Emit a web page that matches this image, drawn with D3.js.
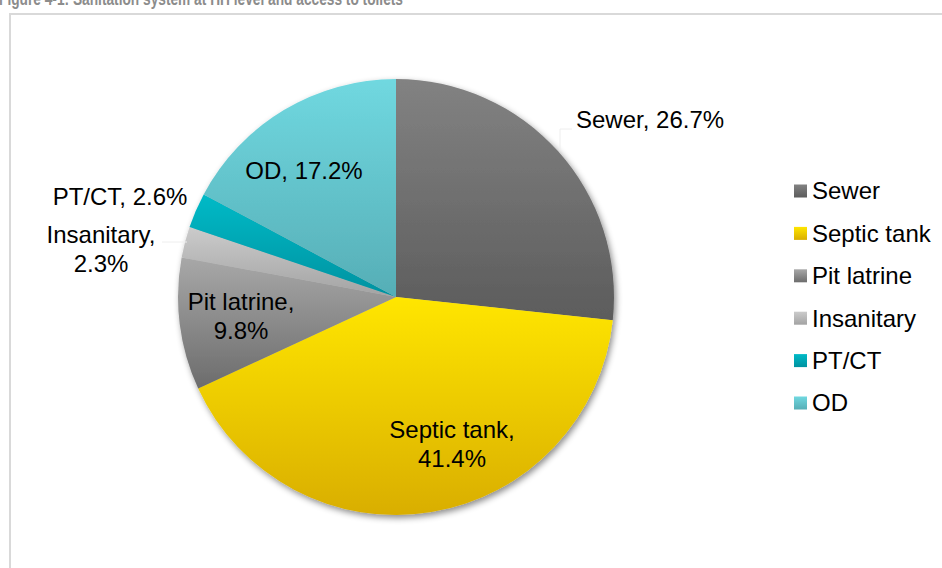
<!DOCTYPE html>
<html>
<head>
<meta charset="utf-8">
<script src="https://cdn.jsdelivr.net/npm/d3@7"></script>
<style>
  html, body { margin: 0; padding: 0; background: #fff; }
  svg { display: block; }
</style>
</head>
<body>
<svg id="chart" width="942" height="568"></svg>
<script>
// Sanitation system at household level: share of households by facility type
const categories = ["Sewer", "Septic tank", "Pit latrine", "Insanitary", "PT/CT", "OD"];
const shares = [26.7, 41.4, 9.8, 2.3, 2.6, 17.2];
const labelLines = [
  ["Sewer, 26.7%"],
  ["Septic tank,", "41.4%"],
  ["Pit latrine,", "9.8%"],
  ["Insanitary,", "2.3%"],
  ["PT/CT, 2.6%"],
  ["OD, 17.2%"]
];
const titleText = "Figure 4-1:  Sanitation system at HH level and access to toilets";

// Fill gradients (top colour, bottom colour) for each slice
const fills = [
  ["#828282", "#5c5c5c"],
  ["#ffe600", "#d9ae00"],
  ["#a8a8a8", "#6c6c6c"],
  ["#cbcbcb", "#a3a3a3"],
  ["#00bac7", "#0092a0"],
  ["#70d8e0", "#56aeb6"]
];

const W = 942, H = 568;
const cx = 396, cy = 297, R = 218;
const font = "'Liberation Sans', Arial, sans-serif";
const fontSize = 24;
const lineH = 28.5;

// Label placement relative to the pie centre: [dx, dy of first baseline, anchor]
const labelPlacement = [
  [180, -169, "start"],
  [56, 141, "middle"],
  [-155, 13, "middle"],
  [-295, -54, "middle"],
  [-276, -92, "middle"],
  [-92, -118, "middle"]
];

const svg = d3.select("#chart");
const defs = svg.append("defs");

fills.forEach((f, i) => {
  const g = defs.append("linearGradient")
    .attr("id", "grad" + i)
    .attr("x1", 0).attr("y1", 0).attr("x2", 0).attr("y2", 1);
  g.append("stop").attr("offset", "0%").attr("stop-color", f[0]);
  g.append("stop").attr("offset", "100%").attr("stop-color", f[1]);
});

const shadow = defs.append("filter").attr("id", "pieShadow")
  .attr("x", "-10%").attr("y", "-10%").attr("width", "120%").attr("height", "120%");
shadow.append("feDropShadow")
  .attr("dx", 2).attr("dy", 3).attr("stdDeviation", 3)
  .attr("flood-color", "#000").attr("flood-opacity", 0.45);

// Title (runs off the top of the frame)
svg.append("text")
  .attr("x", -1).attr("y", 5)
  .attr("font-family", "'Liberation Sans Narrow', 'Arial Narrow', " + font)
  .attr("font-weight", "bold")
  .attr("font-size", 18)
  .attr("fill", "#8c8c8c")
  .attr("textLength", 404)
  .attr("lengthAdjust", "spacingAndGlyphs")
  .text(titleText);

// Chart frame
svg.append("rect")
  .attr("x", 10).attr("y", 14)
  .attr("width", W + 10).attr("height", H + 10)
  .attr("fill", "#fff")
  .attr("stroke", "#d9d9d9")
  .attr("stroke-width", 2);

const data = categories.map((c, i) => ({ name: c, value: shares[i], i }));

const pie = d3.pie().sort(null).value(d => d.value).startAngle(0).endAngle(2 * Math.PI);
const arcs = pie(data);
const arc = d3.arc().innerRadius(0).outerRadius(R);

const gPie = svg.append("g")
  .attr("transform", `translate(${cx},${cy})`);

gPie.append("g")
  .attr("filter", "url(#pieShadow)")
  .selectAll("path")
  .data(arcs)
  .join("path")
  .attr("d", arc)
  .attr("fill", d => `url(#grad${d.data.i})`);

// Faint leader lines for outside labels
const outerPt = (d, r) => {
  const a = (d.startAngle + d.endAngle) / 2;
  return [r * Math.sin(a), -r * Math.cos(a)];
};
const leader = gPie.append("g")
  .attr("fill", "none")
  .attr("stroke", "#eeeeee")
  .attr("stroke-width", 1);
{
  const p = outerPt(arcs[0], R - 10);
  leader.append("polyline")
    .attr("points", [[164, p[1] - 8], [164, -168], [176, -168]].map(q => q.join(",")).join(" "));
  const q = outerPt(arcs[3], R);
  leader.append("line")
    .attr("x1", q[0] + 2).attr("y1", -55)
    .attr("x2", -234).attr("y2", -55);
}

// Data labels
const gLab = gPie.append("g")
  .attr("font-family", font)
  .attr("font-size", fontSize)
  .attr("fill", "#000");
arcs.forEach((d, k) => {
  const [dx, dy, anchor] = labelPlacement[k];
  const t = gLab.append("text")
    .attr("text-anchor", anchor)
    .attr("x", dx).attr("y", dy);
  labelLines[k].forEach((ln, j) => {
    t.append("tspan").attr("x", dx).attr("dy", j === 0 ? 0 : lineH).text(ln);
  });
});

// Legend
const legend = svg.append("g")
  .attr("transform", "translate(794,191)")
  .attr("font-family", font)
  .attr("font-size", fontSize);
const legendRow = d3.scalePoint().domain(categories).range([0, 212]);
const items = legend.selectAll("g")
  .data(data)
  .join("g")
  .attr("transform", d => `translate(0,${legendRow(d.name)})`);
items.append("rect")
  .attr("x", 0).attr("y", -6.5)
  .attr("width", 13).attr("height", 13)
  .attr("fill", d => `url(#grad${d.i})`);
items.append("text")
  .attr("x", 18).attr("y", 0)
  .attr("dy", "0.35em")
  .attr("fill", "#000")
  .text(d => d.name);
</script>
</body>
</html>
